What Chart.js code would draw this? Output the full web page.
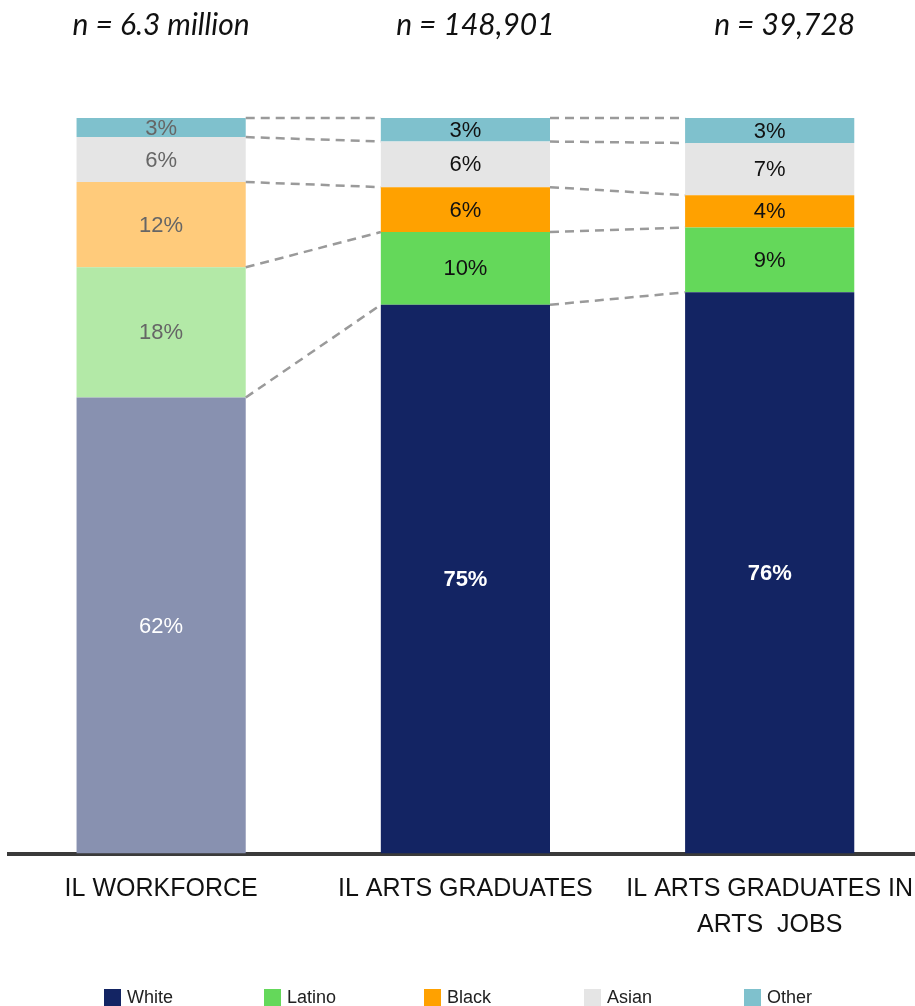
<!DOCTYPE html>
<html>
<head>
<meta charset="utf-8">
<script src="https://cdn.jsdelivr.net/npm/chart.js@4.4.1/dist/chart.umd.min.js"></script>
<style>
    html, body { margin: 0; padding: 0; background: #fff; overflow: hidden; }
    #wrap { position: relative; width: 922px; height: 1006px; overflow: hidden; }
    #chart { position: absolute; left: 0; top: 0; }
    #legend {
        position: absolute; top: 987px; left: 104px;
        display: flex; font-family: "Liberation Sans", Arial, sans-serif;
        font-size: 18px; color: #222;
    }
    #legend .item { display: flex; align-items: center; width: 160px; }
    #legend .box { width: 17px; height: 17px; margin-right: 6px; }
</style>
</head>
<body>
<div id="wrap">
    <canvas id="chart" width="922" height="1006"></canvas>
    <div id="legend"></div>
</div>
<script>
const categories = [
    "IL WORKFORCE",
    "IL ARTS GRADUATES",
    ["IL ARTS GRADUATES IN", "ARTS  JOBS"]
];
const sampleSizes = ["n = 6.3 million", "n = 148,901", "n = 39,728"];

// share of each group, per column (percent)
const white  = [62.0, 74.6, 76.3];
const latino = [17.7,  9.9,  8.8];
const black  = [11.6,  6.1,  4.4];
const asian  = [ 6.1,  6.2,  7.1];
const other  = [ 2.6,  3.2,  3.4];

const groups = ["White", "Latino", "Black", "Asian", "Other"];

// full colour, and the washed-out version used for the workforce column
const colors = {
    White:  ["#8891b0", "#132463"],
    Latino: ["#b3e9a7", "#64d85a"],
    Black:  ["#ffcb7b", "#ffa100"],
    Asian:  ["#e5e5e5", "#e5e5e5"],
    Other:  ["#7fc1cd", "#7fc1cd"]
};

const titleShift = [0, 10, 15];

function makeSet(label, values) {
    return {
        label: label,
        data: values,
        backgroundColor: values.map((v, i) => i === 0 ? colors[label][0] : colors[label][1]),
        borderWidth: 0,
        categoryPercentage: 1,
        barPercentage: 0.556
    };
}

// percentage text inside every segment
const segmentLabels = {
    id: "segmentLabels",
    afterDatasetsDraw(chart) {
        const ctx = chart.ctx;
        ctx.save();
        ctx.textAlign = "center";
        ctx.textBaseline = "middle";
        chart.data.datasets.forEach((ds, di) => {
            const meta = chart.getDatasetMeta(di);
            meta.data.forEach((bar, i) => {
                const isWhite = ds.label === "White";
                if (i === 0) {
                    ctx.fillStyle = isWhite ? "#ffffff" : "#666666";
                    ctx.font = "22px 'Liberation Sans', Arial";
                } else {
                    ctx.fillStyle = isWhite ? "#ffffff" : "#111111";
                    ctx.font = (isWhite ? "bold " : "") + "22px 'Liberation Sans', Arial";
                }
                const y = (bar.y + bar.base) / 2;
                ctx.fillText(Math.round(ds.data[i]) + "%", bar.x, y + 1);
            });
        });
        ctx.restore();
    }
};

// dashed lines joining matching segment edges of neighbouring bars
const connectors = {
    id: "connectors",
    afterDatasetsDraw(chart) {
        const ctx = chart.ctx;
        ctx.save();
        ctx.strokeStyle = "#9a9a9a";
        ctx.lineWidth = 2.5;
        ctx.setLineDash([9, 6]);
        chart.data.datasets.forEach((ds, di) => {
            const bars = chart.getDatasetMeta(di).data;
            for (let i = 0; i < bars.length - 1; i++) {
                const a = bars[i], b = bars[i + 1];
                ctx.beginPath();
                ctx.moveTo(a.x + a.width / 2, a.y);
                ctx.lineTo(b.x - b.width / 2, b.y);
                ctx.stroke();
            }
        });
        ctx.restore();
    }
};

// sample size above each column
const sampleTitles = {
    id: "sampleTitles",
    afterDraw(chart) {
        const ctx = chart.ctx;
        const x = chart.scales.x;
        ctx.save();
        ctx.fillStyle = "#111";
        ctx.font = "italic 30px Lato, 'Open Sans', sans-serif";
        ctx.textAlign = "center";
        ctx.textBaseline = "middle";
        sampleSizes.forEach((t, i) => {
            ctx.fillText(t, x.getPixelForValue(i) + titleShift[i], 25);
        });
        ctx.restore();
    }
};

const datasets = [
    makeSet("White", white),
    makeSet("Latino", latino),
    makeSet("Black", black),
    makeSet("Asian", asian),
    makeSet("Other", other)
];

new Chart(document.getElementById("chart"), {
    type: "bar",
    data: { labels: categories, datasets: datasets },
    options: {
        responsive: false,
        animation: false,
        layout: { padding: { top: 118, left: 9, right: 0, bottom: 54 } },
        plugins: {
            legend: { display: false },
            tooltip: { enabled: false }
        },
        scales: {
            x: {
                stacked: true,
                grid: { display: false },
                border: { display: true, color: "#3a3a3a", width: 4 },
                ticks: {
                    color: "#111",
                    padding: 9,
                    maxRotation: 0,
                    autoSkip: false,
                    font: { family: "'Liberation Sans', Arial", size: 25, lineHeight: 1.45 }
                }
            },
            y: {
                stacked: true,
                display: false,
                min: 0,
                max: 100
            }
        }
    },
    plugins: [connectors, segmentLabels, sampleTitles]
});

// legend built from the same groups and colours
const legend = document.getElementById("legend");
groups.forEach(g => {
    const item = document.createElement("div");
    item.className = "item";
    const box = document.createElement("span");
    box.className = "box";
    box.style.background = colors[g][1];
    const txt = document.createElement("span");
    txt.innerText = g;
    item.appendChild(box);
    item.appendChild(txt);
    legend.appendChild(item);
});
</script>
</body>
</html>
